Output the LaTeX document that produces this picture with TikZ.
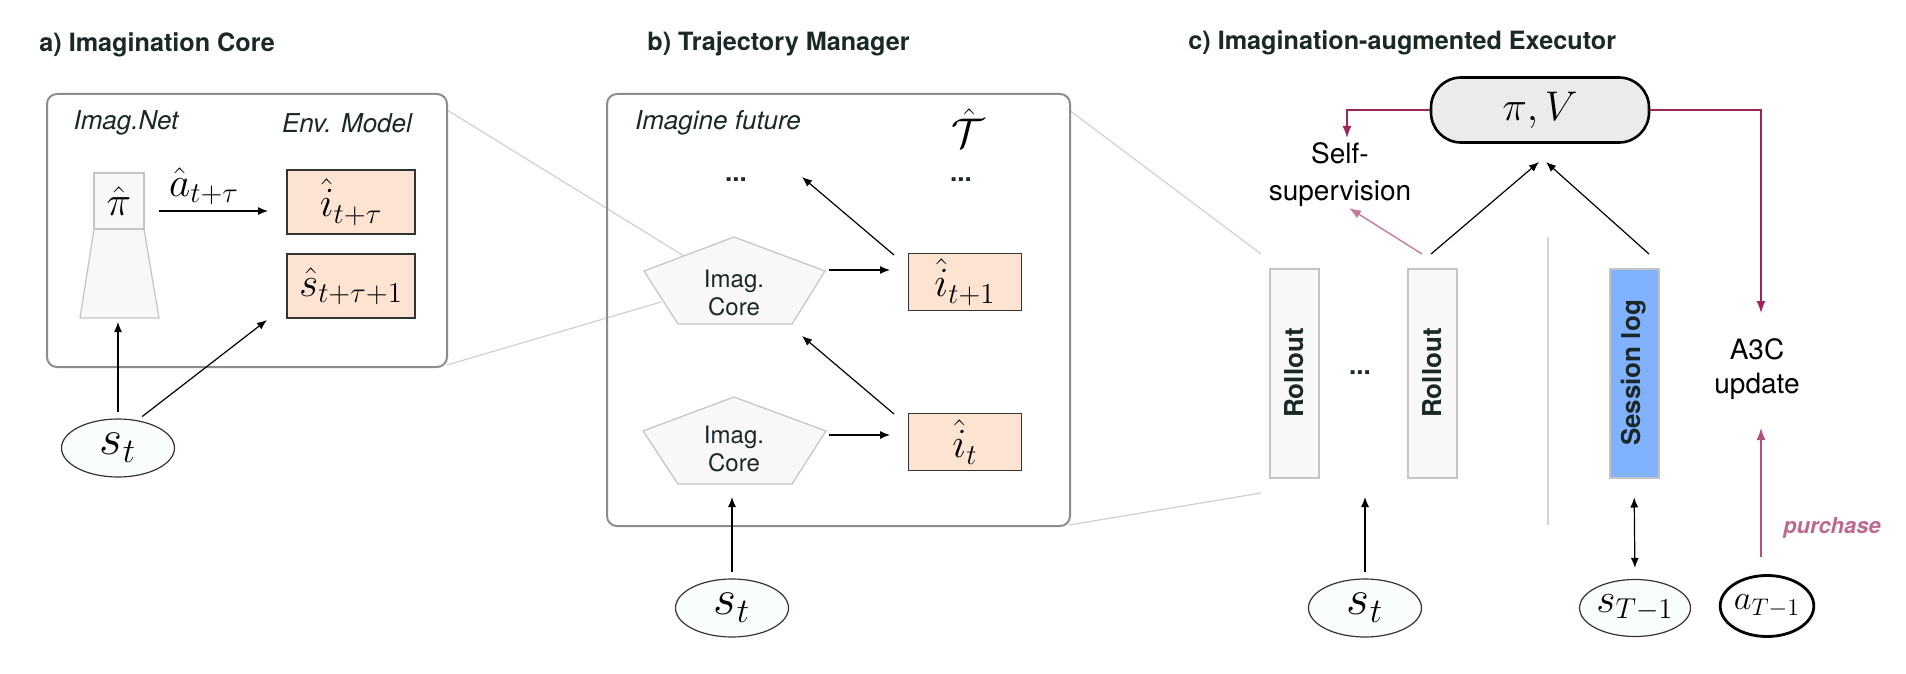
\documentclass[tikz,border=0pt]{standalone}
\usepackage{fontspec}
\setmainfont{TeX Gyre Heros}
\usetikzlibrary{arrows.meta,shapes.geometric}

\definecolor{ink}{HTML}{1A2828}
\definecolor{peach}{HTML}{FDE4D2}
\definecolor{panelgray}{HTML}{8C8C8C}
\definecolor{zoomgray}{HTML}{D0D0D0}
\definecolor{boxgray}{HTML}{C4C4C4}
\definecolor{lightfill}{HTML}{F8F8F8}
\definecolor{obsfill}{HTML}{FAFDFD}
\definecolor{pivfill}{HTML}{EBEBEB}
\definecolor{crimson}{HTML}{A0245C}
\definecolor{pinkarrow}{HTML}{C87898}
\definecolor{purch}{HTML}{B0507E}
\definecolor{logblue}{HTML}{80B2FF}

\tikzset{
  title/.style={anchor=west,inner sep=0pt,text=ink,font=\bfseries\fontsize{12.6}{15}\selectfont},
  tag/.style={inner sep=0pt,text=ink,font=\itshape\fontsize{13}{16}\selectfont},
  panel/.style={draw=panelgray,line width=1pt,rounded corners=5pt},
  zoom/.style={draw=zoomgray,line width=0.6pt},
  statebox/.style={draw=black!80,fill=peach,line width=0.6pt,inner sep=0pt,font=\fontsize{20}{24}\selectfont},
  netbox/.style={draw=boxgray,fill=lightfill,line width=0.6pt,inner sep=0pt},
  corepent/.style={draw=boxgray,fill=lightfill,line width=0.6pt},
  corelabel/.style={align=center,inner sep=0pt,text=ink,font=\fontsize{12}{14}\selectfont},
  obs/.style={ellipse,draw=black!80,fill=obsfill,line width=0.6pt,inner sep=0pt,
    minimum width=56.5pt,minimum height=29pt,font=\fontsize{25}{30}\selectfont},
  strip/.style={rotate=90,draw=boxgray,fill=lightfill,line width=1pt,inner sep=0pt,
    minimum width=104.5pt,minimum height=24.5pt,text=ink,font=\bfseries\fontsize{13}{16}\selectfont},
  dots/.style={inner sep=0pt,text=ink,font=\bfseries\fontsize{13}{16}\selectfont},
  note/.style={align=center,inner sep=0pt,font=\fontsize{14}{18.5}\selectfont},
  arr/.style={-{Latex[length=5pt,width=4pt]},line width=0.6pt},
  redarr/.style={-{Latex[length=6pt,width=4.5pt]},draw=crimson,line width=0.7pt},
}

\begin{document}
\begin{tikzpicture}[x=0.5pt,y=-0.5pt]
\useasboundingbox (0,0) rectangle (1906,674);

% titles
\node[title] (ta) at (39,45) {a) Imagination Core};
\node[title] (tb) at (647,44) {b) Trajectory Manager};
\node[title] (tc) at (1188,43) {c) Imagination-augmented Executor};

% zoom lines between the panels
\draw[zoom] (447,110) -- (684,256);
\draw[zoom] (447,365) -- (661,302);
\draw[zoom] (1069,110) -- (1261,254);
\draw[zoom] (1069,525) -- (1261,493);

% a) imagination core
\draw[panel] (47,94) rectangle (447,367);
\node[tag] (imagnet) at (126,123) {Imag.Net};
\node[tag] (envmodel) at (347,123) {Env. Model};
\draw[netbox] (94,229) -- (144,229) -- (159,318) -- (80,318) -- cycle;
\node[netbox,minimum width=25pt,minimum height=28pt,font=\fontsize{22}{26}\selectfont] (pihat) at (119,201) {$\hat{\pi}$};
\node[statebox,minimum width=64pt,minimum height=32pt] (itau) at (351,202) {$\hat{i}_{t+\tau}$};
\node[statebox,minimum width=64pt,minimum height=32pt] (snext) at (351,286) {$\hat{s}_{t+\tau+1}$};
\node[inner sep=0pt,font=\fontsize{20}{24}\selectfont] (atau) at (204,186) {$\hat{a}_{t+\tau}$};
\coordinate (actout) at (159,211);
\coordinate (actin) at (268,211);
\draw[arr] (actout) -- (actin);
\node[obs] (st1) at (118,448) {$s_t$};
\coordinate (trapin) at (118,322);
\coordinate (envin) at (267,320);
\draw[arr,shorten <=3pt] (st1.north) -- (trapin);
\draw[arr,shorten <=3pt] (st1.55) -- (envin);

% b) trajectory manager
\draw[panel] (607,94) rectangle (1070,526);
\node[tag] (imagfut) at (718,123) {Imagine future};
\node[inner sep=0pt,font=\fontsize{20}{24}\selectfont] (traj) at (968,128) {$\hat{\mathcal{T}}$};
\node[dots] (dotsl) at (736,180) {...};
\node[dots] (dotsr) at (961,180) {...};
\draw[corepent] (734,237) -- (825,271) -- (792,324) -- (678,324) -- (644,271) -- cycle;
\node[corelabel] (core1) at (734,293) {Imag.\\Core};
\draw[corepent] (734,397) -- (826,431) -- (792,484) -- (678,484) -- (643,431) -- cycle;
\node[corelabel] (core0) at (734,449) {Imag.\\Core};
\node[statebox,minimum width=56.5pt,minimum height=28.5pt] (inext) at (965,282) {$\hat{i}_{t+1}$};
\node[statebox,minimum width=56.5pt,minimum height=28.5pt] (inow) at (965,442) {$\hat{i}_t$};
\coordinate (c1out) at (829,270);
\coordinate (i1in) at (890,270);
\coordinate (c0out) at (829,435);
\coordinate (i0in) at (890,435);
\coordinate (i1up) at (894,255);
\coordinate (futin) at (802,177);
\coordinate (i0up) at (894,414);
\coordinate (c1in) at (802,336);
\draw[arr] (c1out) -- (i1in);
\draw[arr] (c0out) -- (i0in);
\draw[arr] (i1up) -- (futin);
\draw[arr] (i0up) -- (c1in);
\node[obs] (st2) at (732,608) {$s_t$};
\coordinate (c0in) at (732,497);
\draw[arr,shorten <=3pt] (st2.north) -- (c0in);

% c) imagination-augmented executor
\node[draw=black,fill=pivfill,line width=1.3pt,rounded corners=15pt,minimum width=109pt,
  minimum height=32.5pt,inner sep=0pt,font=\fontsize{22}{26}\selectfont] (piv) at (1540,110) {$\pi,V$};
\node[note] (selfsup) at (1340,175) {Self-\\supervision};
\coordinate (ssin) at (1347,138);
\coordinate (a3cin) at (1761,313);
\draw[redarr] (piv.west) -| (ssin);
\draw[redarr] (piv.east) -| (a3cin);
\draw[draw=black!17,line width=1pt] (1548,237) -- (1548,525);
\node[strip] (roll1) at (1294,373) {Rollout};
\node[dots] (dotsc) at (1360,373) {...};
\node[strip] (roll2) at (1432,373) {Rollout};
\node[strip,fill=logblue] (slog) at (1634,373) {Session log};
\node[note,font=\fontsize{14}{17}\selectfont] (a3c) at (1757,369) {A3C\\update};
\coordinate (r2out) at (1431,254);
\coordinate (r2pink) at (1422,254);
\coordinate (ssout) at (1349,208);
\coordinate (pivin1) at (1539,162);
\coordinate (logout) at (1649,254);
\coordinate (pivin2) at (1546,162);
\draw[arr] (r2out) -- (pivin1);
\draw[arr] (logout) -- (pivin2);
\draw[-{Latex[length=6pt,width=4.5pt]},draw=pinkarrow,line width=0.7pt] (r2pink) -- (ssout);
\node[obs] (st3) at (1365,608) {$s_t$};
\coordinate (rollin) at (1365,497);
\draw[arr,shorten <=3pt] (st3.north) -- (rollin);
\node[obs,minimum width=55.5pt,minimum height=28.5pt,font=\fontsize{21}{25}\selectfont] (stm1) at (1635,608) {$s_{T-1}$};
\draw[{Latex[length=5pt,width=4pt]}-{Latex[length=5pt,width=4pt]},line width=0.6pt,
  shorten <=9.5pt,shorten >=5.5pt] (slog.west) -- (stm1.north);
\node[ellipse,draw=black,fill=white,line width=1.4pt,inner sep=0pt,minimum width=43.5pt,
  minimum height=30.5pt,font=\fontsize{17.3}{20}\selectfont] (atm1) at (1767,606) {$a_{T-1}$};
\coordinate (purout) at (1761,557);
\coordinate (a3cup) at (1761,428);
\draw[-{Latex[length=6pt,width=4.5pt]},draw=purch,line width=0.7pt] (purout) -- (a3cup);
\node[inner sep=0pt,text=purch!85,font=\bfseries\itshape\fontsize{11}{13}\selectfont] (purlbl) at (1832,528) {purchase};
\end{tikzpicture}
\end{document}
